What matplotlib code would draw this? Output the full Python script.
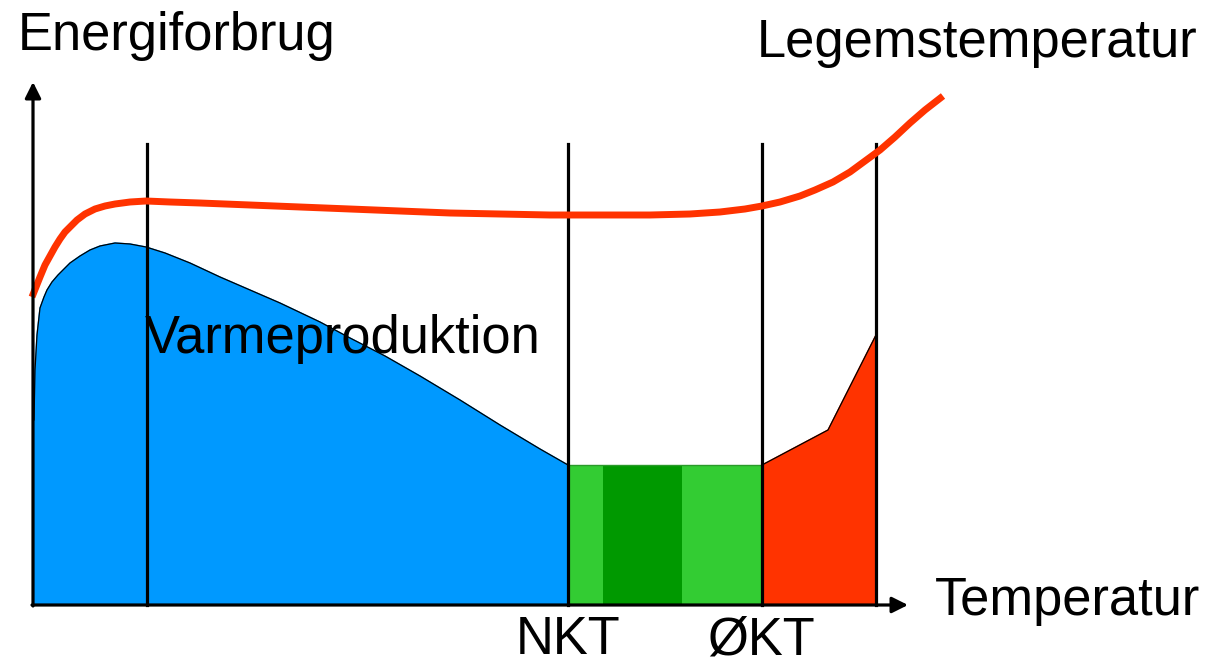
import matplotlib
matplotlib.use("Agg")
import matplotlib.pyplot as plt

# --- data (x = temperature, y = energy use, origin at the axes corner) ---
heat_x = [0, 0, 1, 2, 4, 7, 11, 14, 19, 25, 32, 37, 47, 57, 67, 82, 97, 113, 132,
          157, 187, 217, 247, 287, 317, 352, 387, 427, 467, 507, 535]
heat_y = [0, 105, 185, 235, 270, 297, 308, 315, 323, 330, 337, 342, 349, 355, 359, 362, 361, 358, 352,
          342, 328, 315, 302, 283, 267, 249, 229, 205, 180, 156, 140]

body_x = [-1, 3, 7, 12, 17, 22, 27, 32, 37, 44, 52, 62, 72, 82, 97, 113, 137, 167, 217, 267,
          317, 367, 417, 467, 517, 567, 617, 657, 687, 712, 729, 747, 767, 782, 800, 817,
          832, 847, 862, 877, 892, 910]
body_y = [308, 318, 328, 340, 349, 358, 366, 373, 378, 385, 391, 396, 399, 401, 403, 404, 403, 402, 400, 398,
          396, 394, 392, 391, 390, 390, 390, 391, 393, 396, 399, 403, 409, 415, 423, 433,
          444, 455, 468, 482, 495, 509]

hot_x = [729, 795, 843]
hot_y = [140, 175, 270]

neutral_level = 140
zone_edges = [114, 535, 729, 843]
dark_band = [570, 649]
zone_top = 461

labels = {"NKT": 535, "ØKT": 728}

BLUE = "#0099FF"
RED = "#FF3300"
LGREEN = "#33CC33"
DGREEN = "#009900"

plt.rcParams['font.family'] = ['Liberation Sans', 'DejaVu Sans']

fig = plt.figure(figsize=(12.2, 6.66), dpi=100)
ax = fig.add_axes([0, 0, 1, 1])
ax.set_xlim(-33, 1187)
ax.set_ylim(-61, 605)
ax.axis("off")

# heat production (blue)
ax.fill(heat_x + [heat_x[-1]], heat_y + [0], color=BLUE, zorder=1)
ax.plot(heat_x[2:], heat_y[2:], color="black", lw=0.9, zorder=2)

# thermoneutral zone (green)
ax.fill_between([zone_edges[1], zone_edges[2]], 0, neutral_level, color=LGREEN, lw=0, zorder=1)
ax.fill_between(dark_band, 0, neutral_level, color=DGREEN, lw=0, zorder=1)
ax.plot([zone_edges[1], zone_edges[2]], [neutral_level, neutral_level], color="#2a9a2a", lw=1, zorder=2)

# hyperthermia (red)
ax.fill(hot_x + [hot_x[-1], hot_x[0]], hot_y + [0, 0], color=RED, zorder=1)
ax.plot(hot_x, hot_y, color="black", lw=0.9, zorder=2)

# vertical zone lines
for xe in zone_edges:
    ax.plot([xe, xe], [0, zone_top], color="black", lw=2.3, zorder=3)

# body temperature curve
ax.plot(body_x, body_y, color=RED, lw=5, solid_capstyle="butt", solid_joinstyle="round", zorder=4)

# axes arrows
ax.annotate("", xy=(0, 523), xytext=(0, -1),
            arrowprops=dict(arrowstyle="-|>", lw=2.3, color="black", mutation_scale=24, shrinkA=0, shrinkB=0), zorder=5)
ax.annotate("", xy=(875, 0), xytext=(-1, 0),
            arrowprops=dict(arrowstyle="-|>", lw=2.3, color="black", mutation_scale=24, shrinkA=0, shrinkB=0), zorder=5)

fs = 37.8
ax.text(-15, 555, "Energiforbrug", fontsize=fs, va="baseline", ha="left")
ax.text(724, 548, "Legemstemperatur", fontsize=fs, va="baseline", ha="left")
ax.text(112, 252, "Varmeproduktion", fontsize=fs, va="baseline", ha="left", zorder=6)
ax.text(902, -10, "Temperatur", fontsize=fs, va="baseline", ha="left")
for name, xpos in labels.items():
    ax.text(xpos, -49, name, fontsize=fs, va="baseline", ha="center")

fig.savefig("out.png", dpi=100)
